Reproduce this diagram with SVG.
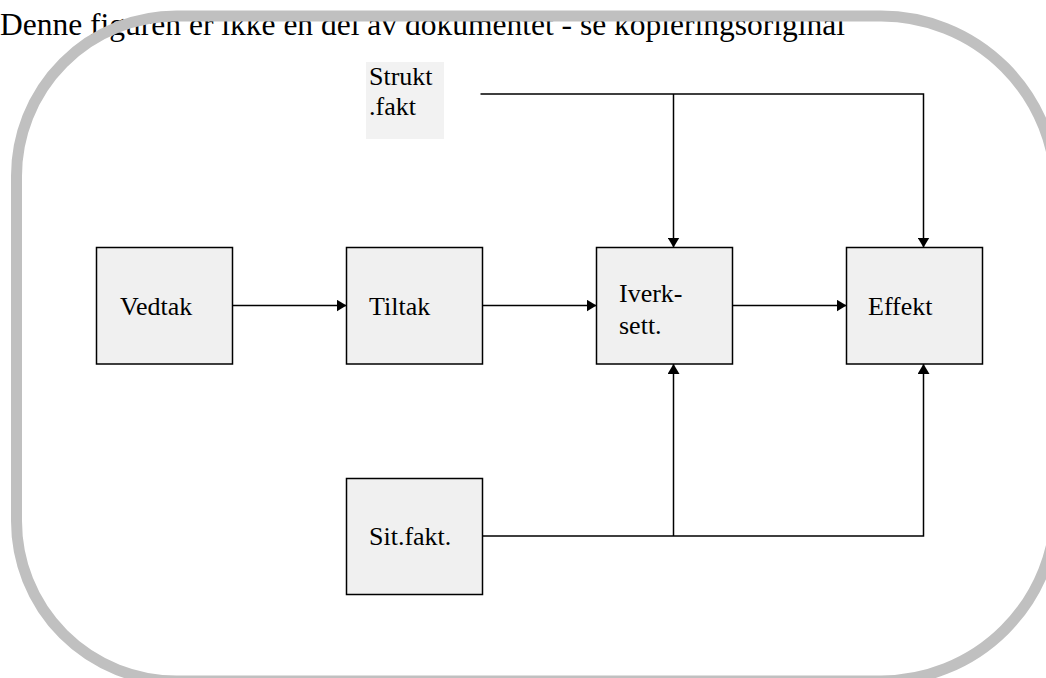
<svg xmlns="http://www.w3.org/2000/svg" width="1046" height="678" viewBox="0 0 1046 678">
<style>
.t{font-family:"Liberation Serif","Times New Roman",serif;font-size:26px;fill:#000}
.box{fill:#f0f0f0;stroke:#000;stroke-width:1.5}
.c{fill:none;stroke:#000;stroke-width:1.5}
</style>
<defs>
<marker id="ah" markerUnits="userSpaceOnUse" markerWidth="10" markerHeight="12" refX="10" refY="6" orient="auto">
<path d="M0,0 L10,6 L0,12 z" fill="#000"/>
</marker>
</defs>
<rect width="1046" height="678" fill="#fff"/>
<text x="0" y="35" style="font-family:'Liberation Serif','Times New Roman',serif;font-size:31.5px" fill="#000">Denne figuren er ikke en del av dokumentet - se kopieringsoriginal</text>
<path d="M16.5,176 A160,160 0 0 1 176.5,16 H881 A175,175 0 0 1 1056,191 V506 A175,175 0 0 1 881,681 H176.5 A160,160 0 0 1 16.5,521 Z" fill="none" stroke="#c0c0c0" stroke-width="11"/>
<g id="connectors">
<path class="c" d="M232.5,305.5 H346.5" marker-end="url(#ah)"/>
<path class="c" d="M482.5,305.5 H596.5" marker-end="url(#ah)"/>
<path class="c" d="M732.5,305.5 H846.5" marker-end="url(#ah)"/>
<path class="c" d="M480.5,94 H923.5 V247.5" marker-end="url(#ah)"/>
<path class="c" d="M673.5,94 V247.5" marker-end="url(#ah)"/>
<path class="c" d="M482.5,536 H923.5 V364" marker-end="url(#ah)"/>
<path class="c" d="M673.5,536 V364" marker-end="url(#ah)"/>
</g>
<g id="strukt">
<rect x="366" y="62" width="78" height="77" fill="#f2f2f2"/>
<text class="t" x="369" y="85">Strukt</text>
<text class="t" x="369" y="115">.fakt</text>
</g>
<g id="vedtak">
<rect class="box" x="96.5" y="247.5" width="136" height="116.5"/>
<text class="t" x="120" y="315">Vedtak</text>
</g>
<g id="tiltak">
<rect class="box" x="346.5" y="247.5" width="136" height="116.5"/>
<text class="t" x="369" y="315">Tiltak</text>
</g>
<g id="iverk">
<rect class="box" x="596.5" y="247.5" width="136" height="116.5"/>
<text class="t" x="619" y="302">Iverk-</text>
<text class="t" x="619" y="334">sett.</text>
</g>
<g id="effekt">
<rect class="box" x="846.5" y="247.5" width="136" height="116.5"/>
<text class="t" x="868" y="315">Effekt</text>
</g>
<g id="sitfakt">
<rect class="box" x="346.5" y="478.5" width="136" height="116"/>
<text class="t" x="369" y="545">Sit.fakt.</text>
</g>
</svg>
